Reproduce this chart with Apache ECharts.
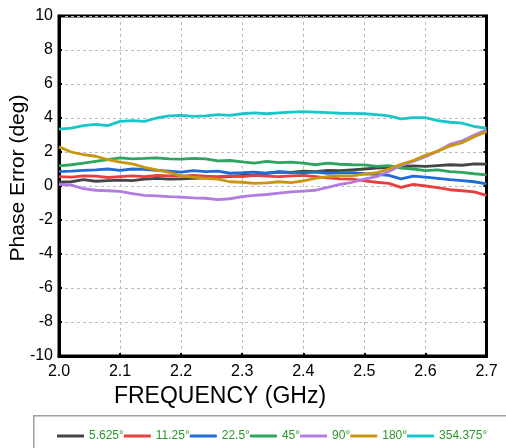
<!DOCTYPE html>
<html>
<head>
<meta charset="utf-8">
<script src="https://cdn.jsdelivr.net/npm/echarts@6/dist/echarts.min.js"></script>
<style>
html,body{margin:0;padding:0;background:#fff;}
#chart{width:506px;height:448px;}
</style>
</head>
<body>
<div id="chart"></div>
<script>
const freqs = [2.00,2.02,2.04,2.06,2.08,2.10,2.12,2.14,2.16,2.18,2.20,2.22,2.24,2.26,2.28,2.30,2.32,2.34,2.36,2.38,2.40,2.42,2.44,2.46,2.48,2.50,2.52,2.54,2.56,2.58,2.60,2.62,2.64,2.66,2.68,2.70];
const seriesNames = ['5.625°','11.25°','22.5°','45°','90°','180°','354.375°'];
const seriesColors = ['#454545','#e8403f','#1f6bd8','#2ea55f','#b17de3','#c8960f','#19c7c9'];
const s5625 = [0.22,0.25,0.38,0.28,0.32,0.35,0.32,0.40,0.45,0.40,0.42,0.45,0.48,0.52,0.55,0.62,0.65,0.75,0.82,0.80,0.88,0.85,0.92,0.90,0.95,1.00,1.05,1.10,1.12,1.18,1.15,1.20,1.25,1.22,1.30,1.28];
const s1125 = [0.55,0.52,0.60,0.58,0.50,0.55,0.60,0.55,0.62,0.60,0.58,0.62,0.58,0.55,0.60,0.55,0.62,0.58,0.55,0.60,0.62,0.55,0.48,0.42,0.40,0.30,0.22,0.15,-0.08,0.10,0.00,-0.10,-0.22,-0.28,-0.35,-0.55];
const s225 = [0.85,0.88,0.92,0.95,1.00,0.92,1.00,0.98,0.92,0.88,0.82,0.90,0.85,0.88,0.75,0.78,0.82,0.75,0.85,0.80,0.78,0.82,0.75,0.78,0.78,0.72,0.68,0.62,0.42,0.58,0.52,0.45,0.38,0.32,0.25,0.12];
const s45 = [1.18,1.25,1.35,1.45,1.55,1.65,1.60,1.62,1.65,1.60,1.58,1.62,1.60,1.48,1.50,1.42,1.35,1.45,1.38,1.40,1.35,1.25,1.35,1.28,1.25,1.24,1.15,1.20,1.05,1.00,0.90,0.95,0.85,0.80,0.72,0.65];
const s90 = [0.10,0.05,-0.15,-0.25,-0.28,-0.32,-0.45,-0.55,-0.58,-0.62,-0.65,-0.70,-0.72,-0.80,-0.75,-0.62,-0.55,-0.50,-0.42,-0.35,-0.30,-0.25,-0.08,0.10,0.22,0.40,0.55,0.85,1.20,1.45,1.72,2.05,2.45,2.65,3.00,3.30];
const s180 = [2.30,2.00,1.85,1.75,1.55,1.40,1.30,1.10,0.95,0.80,0.60,0.52,0.45,0.40,0.25,0.22,0.15,0.18,0.25,0.20,0.30,0.45,0.55,0.60,0.60,0.70,0.78,1.00,1.27,1.50,1.80,2.05,2.35,2.55,2.90,3.20];
const s354375 = [3.35,3.40,3.55,3.62,3.55,3.80,3.85,3.80,4.00,4.12,4.15,4.10,4.12,4.20,4.15,4.25,4.30,4.25,4.30,4.35,4.37,4.35,4.32,4.28,4.27,4.25,4.20,4.12,3.95,4.02,4.02,3.85,3.75,3.70,3.50,3.40];
const yTicks = [-10,-8,-6,-4,-2,0,2,4,6,8,10];
const xTicks = ['2.0','2.1','2.2','2.3','2.4','2.5','2.6','2.7'];

const allValues = [s5625,s1125,s225,s45,s90,s180,s354375];
const chart = echarts.init(document.getElementById('chart'), null, {renderer:'canvas'});
const FONT = 'Liberation Sans, Arial, sans-serif';

const series = seriesNames.map((name, i) => ({
  name: name,
  type: 'line',
  data: freqs.map((f, j) => [f, allValues[i][j]]),
  symbol: 'none',
  lineStyle: {width: 2.8, color: seriesColors[i]},
  itemStyle: {color: seriesColors[i]},
  z: 3
}));

chart.setOption({
  animation: false,
  backgroundColor: '#fff',
  grid: {left: 59, top: 16, width: 427.5, height: 340, show: true, borderColor: '#000', borderWidth: 3, containLabel: false},
  xAxis: {
    type: 'value', min: 2.0, max: 2.7, interval: 0.1,
    axisLine: {show: true, onZero: false, lineStyle: {color: '#000', width: 3}},
    axisTick: {show: true, inside: true, length: 3, lineStyle: {color: '#000', width: 2}},
    axisLabel: {color: '#000', fontSize: 16, fontFamily: FONT, margin: 8,
      formatter: v => xTicks[Math.round((v - 2.0) * 10)] || ''},
    splitLine: {show: true, lineStyle: {color: '#bdbdbd', type: [3, 3], width: 1}}
  },
  yAxis: [{
    type: 'value', min: -10, max: 10, interval: 2,
    axisLine: {show: true, onZero: false, lineStyle: {color: '#000', width: 3}},
    axisTick: {show: true, inside: true, length: 3, lineStyle: {color: '#000', width: 2}},
    axisLabel: {color: '#000', fontSize: 16, fontFamily: FONT, margin: 6,
      formatter: v => yTicks.includes(v) ? String(v) : ''},
    splitLine: {show: true, lineStyle: {color: '#bdbdbd', type: [3, 3], width: 1}}
  }, {
    type: 'value', min: -10, max: 10, interval: 2, position: 'right',
    axisLine: {show: true, onZero: false, lineStyle: {color: '#000', width: 3}},
    axisTick: {show: true, inside: true, length: 3, lineStyle: {color: '#000', width: 2}},
    axisLabel: {show: false},
    splitLine: {show: false}
  }],
  legend: {
    left: 57, top: 430, padding: 0,
    icon: 'rect', itemWidth: 27, itemHeight: 3, itemGap: 0,
    textStyle: {color: '#2a982a', fontSize: 12, fontFamily: FONT},
    data: seriesNames
  },
  graphic: [
    {type: 'rect', left: 33, top: 415, shape: {width: 480, height: 40},
      style: {fill: '#fff', stroke: '#a0a0a0', lineWidth: 1.5}, z: -1},
    {type: 'text', x: 220, y: 397,
      style: {text: 'FREQUENCY (GHz)', fill: '#000', font: '23px ' + FONT, textAlign: 'center', textVerticalAlign: 'middle'}},
    {type: 'text', rotation: Math.PI / 2, x: 18, y: 178,
      style: {text: 'Phase Error (deg)', fill: '#000', font: '21px ' + FONT, textAlign: 'center', textVerticalAlign: 'middle'}}
  ],
  series: series
});
</script>
</body>
</html>
